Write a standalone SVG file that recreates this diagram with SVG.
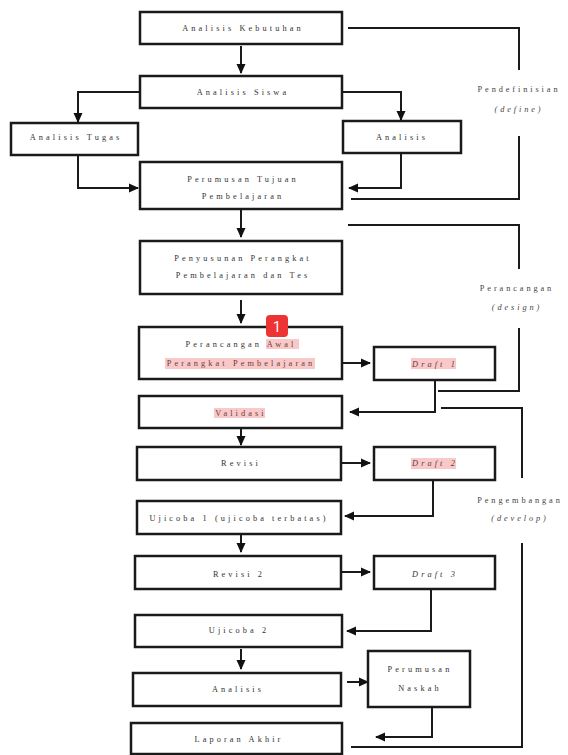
<svg xmlns="http://www.w3.org/2000/svg" width="568" height="755" viewBox="0 0 568 755">
<defs>
<marker id="ah" markerUnits="userSpaceOnUse" markerWidth="10" markerHeight="10" viewBox="0 0 10 10" refX="9" refY="5" orient="auto">
<path d="M0,0.5 L10,5 L0,9.5 Z" fill="#111"/>
</marker>
<style>
.box{fill:#fff;stroke:#1a1a1a;stroke-width:2.5}
.t{font-family:"Liberation Serif","Times New Roman",serif;font-size:8.3px;letter-spacing:3.1px;fill:#333;text-anchor:middle;dominant-baseline:central}
.i{font-style:italic}
.h{fill:#6a3a3a}
.hl{fill:#f9c9c9}
.c{fill:none;stroke:#1a1a1a;stroke-width:2}
.a{marker-end:url(#ah)}
.lbl{font-family:"Liberation Serif","Times New Roman",serif;font-size:8.3px;letter-spacing:2.9px;fill:#444;text-anchor:middle;dominant-baseline:central}
</style>
</defs>
<rect width="568" height="755" fill="#fff"/>

<g id="connectors">
<path class="c a" d="M241,46 V73"/>
<path class="c a" d="M140,92 H78 V122"/>
<path class="c a" d="M342,92 H401 V120"/>
<path class="c a" d="M78,155 V188 H138"/>
<path class="c a" d="M401,153 V188 H349"/>
<path class="c" d="M348,28 H519 V70"/>
<path class="c" d="M519,136 V199 H351"/>
<path class="c a" d="M241,209 V237"/>
<path class="c" d="M348,225 H519 V269"/>
<path class="c" d="M519,328 V391 H438"/>
<path class="c a" d="M241,300 V323"/>
<path class="c a" d="M342,363 H370"/>
<path class="c a" d="M435,380 V412 H350"/>
<path class="c" d="M441,408 H522 V478"/>
<path class="c" d="M522,543 V747 H351"/>
<path class="c a" d="M241,429 V445"/>
<path class="c a" d="M342,463 H370"/>
<path class="c a" d="M433,480 V516 H345"/>
<path class="c a" d="M241,535 V552"/>
<path class="c a" d="M342,572 H370"/>
<path class="c a" d="M431,589 V631 H347"/>
<path class="c a" d="M241,649 V669"/>
<path class="c a" d="M347,682 H368"/>
<path class="c a" d="M432,707 V737 H376"/>
</g>

<g id="labels">
<text class="lbl" x="519" y="89">Pendefinisian</text>
<text class="lbl i" x="519" y="109">(define)</text>
<text class="lbl" x="517" y="288">Perancangan</text>
<text class="lbl i" x="517" y="307">(design)</text>
<text class="lbl" x="520" y="500">Pengembangan</text>
<text class="lbl i" x="520" y="518">(develop)</text>
</g>

<g id="n1"><rect class="box" x="140" y="12" width="202" height="32"/><text class="t" x="243" y="28">Analisis Kebutuhan</text></g>
<g id="n2"><rect class="box" x="140" y="76" width="202" height="32"/><text class="t" x="243" y="92">Analisis Siswa</text></g>
<g id="n3"><rect class="box" x="11" y="123" width="127" height="32"/><text class="t" x="76" y="137">Analisis Tugas</text></g>
<g id="n4"><rect class="box" x="343" y="121" width="118" height="32"/><text class="t" x="402" y="137">Analisis</text></g>
<g id="n5"><rect class="box" x="140" y="162" width="202" height="47"/><text class="t" x="243" y="179">Perumusan Tujuan</text><text class="t" x="243" y="196">Pembelajaran</text></g>
<g id="n6"><rect class="box" x="140" y="241" width="202" height="53"/><text class="t" x="243" y="258">Penyusunan Perangkat</text><text class="t" x="243" y="275">Pembelajaran dan Tes</text></g>
<g id="n7"><rect class="box" x="139" y="327" width="203" height="52"/>
<rect class="hl" x="266" y="339" width="33" height="10"/>
<rect class="hl" x="165" y="358" width="150" height="11"/>
<text class="t" x="241" y="344"><tspan>Perancangan </tspan><tspan class="h">Awal</tspan></text>
<text class="t h" x="241" y="363">Perangkat Pembelajaran</text></g>
<g id="n8"><rect class="box" x="374" y="347" width="121" height="33"/><rect class="hl" x="411" y="358" width="45" height="11"/><text class="t i h" x="435" y="364">Draft 1</text></g>
<g id="n9"><rect class="box" x="139" y="396" width="203" height="32"/><rect class="hl" x="214" y="408" width="51" height="10"/><text class="t h" x="241" y="413">Validasi</text></g>
<g id="n10"><rect class="box" x="137" y="447" width="204" height="33"/><text class="t" x="241" y="463">Revisi</text></g>
<g id="n11"><rect class="box" x="374" y="447" width="121" height="33"/><rect class="hl" x="411" y="458" width="45" height="11"/><text class="t i h" x="435" y="463">Draft 2</text></g>
<g id="n12"><rect class="box" x="137" y="501" width="204" height="33"/><text class="t" x="239" y="518">Ujicoba 1 (ujicoba terbatas)</text></g>
<g id="n13"><rect class="box" x="135" y="556" width="206" height="33"/><text class="t" x="239" y="574">Revisi 2</text></g>
<g id="n14"><rect class="box" x="374" y="556" width="121" height="33"/><text class="t i" x="435" y="574">Draft 3</text></g>
<g id="n15"><rect class="box" x="135" y="615" width="207" height="32"/><text class="t" x="239" y="630">Ujicoba 2</text></g>
<g id="n16"><rect class="box" x="133" y="673" width="208" height="33"/><text class="t" x="238" y="689">Analisis</text></g>
<g id="n17"><rect class="box" x="368" y="651" width="102" height="56"/><text class="t" x="420" y="669">Perumusan</text><text class="t" x="420" y="688">Naskah</text></g>
<g id="n18"><rect class="box" x="131" y="723" width="211" height="31"/><text class="t" x="239" y="739">Laporan Akhir</text></g>

<g id="badge"><rect x="266" y="315" width="22" height="22" rx="4" fill="#ee3333"/><text x="277" y="326.5" font-family="Roboto,'Liberation Sans',sans-serif" font-size="14" fill="#fff" text-anchor="middle" dominant-baseline="central">1</text></g>
</svg>
